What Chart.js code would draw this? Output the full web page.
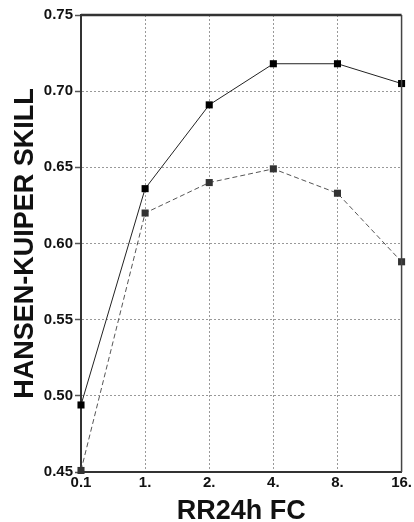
<!DOCTYPE html>
<html>
<head>
<meta charset="utf-8">
<style>
  html, body { margin: 0; padding: 0; background: #fff; }
  #wrap { width: 414px; height: 522px; }
</style>
<script src="https://cdn.jsdelivr.net/npm/chart.js@4/dist/chart.umd.min.js"></script>
</head>
<body>
<div id="wrap"><canvas id="c" width="414" height="522"></canvas></div>
<script>
// forecast thresholds (RR24h FC) and Hansen-Kuiper skill scores
const categories = ['0.1', '1.', '2.', '4.', '8.', '16.'];
const skillSolid = [0.494, 0.636, 0.691, 0.718, 0.718, 0.705];
const skillDashed = [0.451, 0.620, 0.640, 0.649, 0.633, 0.588];
const yTicks = [0.45, 0.50, 0.55, 0.60, 0.65, 0.70, 0.75];

const FONT = '"Liberation Sans", Arial, Helvetica, sans-serif';

// frame lines on the top and right of the plot area
const framePlugin = {
  id: 'frame',
  afterDatasetsDraw(chart) {
    const { ctx, chartArea: a } = chart;
    ctx.save();
    ctx.strokeStyle = '#333';
    ctx.lineWidth = 2.5;
    ctx.beginPath();
    ctx.moveTo(a.left, a.top);
    ctx.lineTo(a.right, a.top);
    ctx.stroke();
    ctx.lineWidth = 1.5;
    ctx.strokeStyle = '#444';
    ctx.beginPath();
    ctx.moveTo(a.right, a.top);
    ctx.lineTo(a.right, a.bottom);
    ctx.stroke();
    ctx.restore();
  }
};

new Chart(document.getElementById('c'), {
  type: 'line',
  data: {
    labels: categories,
    datasets: [
      {
        data: skillSolid,
        borderColor: '#222',
        backgroundColor: '#000',
        borderWidth: 1,
        pointStyle: 'rect',
        pointRadius: 5,
        pointBorderWidth: 0,
        tension: 0,
        clip: false
      },
      {
        data: skillDashed,
        borderColor: '#555',
        backgroundColor: '#333',
        borderWidth: 1,
        borderDash: [5, 3],
        pointStyle: 'rect',
        pointRadius: 5,
        pointBorderWidth: 0,
        tension: 0,
        clip: false
      }
    ]
  },
  options: {
    responsive: false,
    animation: false,
    devicePixelRatio: 1,
    layout: { padding: { top: 15, right: 10, left: 9, bottom: 0 } },
    plugins: { legend: { display: false }, tooltip: { enabled: false } },
    scales: {
      x: {
        offset: false,
        grid: {
          color: '#999',
          lineWidth: 1,
          drawTicks: false
        },
        border: { display: true, color: '#333', width: 2, dash: [2, 2] },
        ticks: {
          color: '#111',
          font: { family: FONT, size: 15, weight: 'bold' },
          padding: 2,
          maxRotation: 0,
          autoSkip: false
        },
        title: {
          display: true,
          text: 'RR24h FC',
          color: '#111',
          font: { family: FONT, size: 27, weight: 'bold', lineHeight: 0.8 },
          padding: { top: 0, bottom: 0 }
        },
        afterFit(scale) { scale.height = 50; }
      },
      y: {
        min: 0.45,
        max: 0.75,
        afterBuildTicks(scale) { scale.ticks = yTicks.map(v => ({ value: v })); },
        grid: {
          color: '#999',
          lineWidth: 1,
          drawTicks: true,
          tickLength: 6,
          tickColor: '#555',
          tickBorderDash: [],
          tickWidth: 1.5
        },
        border: { display: true, color: '#333', width: 2, dash: [2, 2] },
        ticks: {
          color: '#111',
          font: { family: FONT, size: 15, weight: 'bold' },
          padding: 2,
          callback: v => v.toFixed(2)
        },
        title: {
          display: true,
          text: 'HANSEN-KUIPER SKILL',
          color: '#111',
          font: { family: FONT, size: 27, weight: 'bold' },
          padding: { top: 0, bottom: 0 }
        },
        afterFit(scale) { scale.width = 72; }
      }
    }
  },
  plugins: [framePlugin]
});
</script>
</body>
</html>
